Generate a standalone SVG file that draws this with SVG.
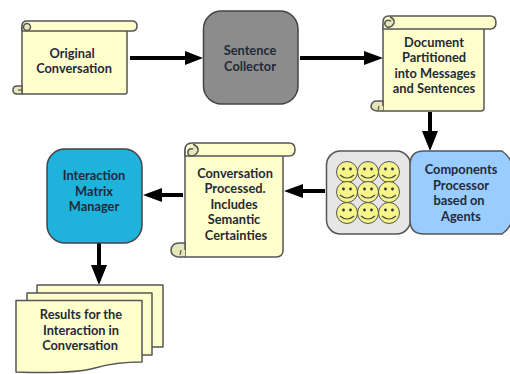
<svg xmlns="http://www.w3.org/2000/svg" width="510" height="374" viewBox="0 0 510 374">
<style>
text{font-family:Lato,"Liberation Sans",sans-serif;font-weight:700;font-size:12.8px;fill:#1f2a3a;text-anchor:middle}
.s{fill:#ffffcc;stroke:#555;stroke-width:1.5;stroke-linejoin:round}
.c{fill:#e6e6b8;stroke:#555;stroke-width:1.5}
.k{stroke:#000;stroke-width:4;fill:none}
.f{fill:#f5f58a;stroke:#555;stroke-width:1}
.e{fill:#333}
.m{fill:none;stroke:#444;stroke-width:1.2}
.l{fill:none;stroke:#555;stroke-width:1.2}
</style>
<defs>
<g id="smile">
<circle class="f" r="10.500"/><circle class="e" cx="-3.500" cy="-3" r="1.400"/><circle class="e" cx="3.500" cy="-3" r="1.400"/>
<path class="m" d="M-7 3Q0 9 7 3"/>
</g>
</defs>
<g id="connectors">
<path class="k" d="M130 58H188M300 58H368M430 112V134M325 191H302M183 195H160M99 243V270"/>
<path d="M203 58L185 51V65ZM383 58L364 51V65ZM430 151L422 131H438ZM284 191L303 184V198ZM143 195L162 188V202ZM99 285L91 265H107Z"/>
</g>
<g id="original">
<path class="s" d="M22 26H127V92Q127 94 125 94H22Z"/>
<path class="s" d="M27 21H132Q137 21 137 26Q137 31 132 31H22V26Q22 21 27 21Z"/>
<circle class="c" cx="27" cy="27" r="3.500"/>
<path class="c" d="M22 94H17Q13 94 13 90Q13 86 17 86H22Z"/>
<path class="l" d="M18 90H22"/>
<text x="72" y="58">Original</text><text x="74" y="73">Conversation</text>
</g>
<g id="collector">
<rect x="203.500" y="11" width="94.500" height="93" rx="18" fill="#8c8c8c" stroke="#444" stroke-width="1.500"/>
<text x="250" y="55">Sentence</text><text x="250" y="71">Collector</text>
</g>
<g id="partitioned">
<path class="s" d="M383 25H484V108Q484 111 481 111H383Z"/>
<path class="s" d="M389 16H490Q496 16 496 22.500Q496 29 490 29H383V22Q383 16 389 16Z"/>
<path class="c" d="M390 17Q395 19 394 23Q392 28 387 27Q384 25 385 22Q387 19 391 21"/>
<path class="c" d="M383 111H377Q371 110 371 106Q372 101 377 101H383V106"/>
<path class="l" d="M379 106L378 110"/>
<text x="434" y="47">Document</text><text x="434" y="62">Partitioned</text><text x="435" y="78">into Messages</text><text x="434" y="93">and Sentences</text>
</g>
<g id="agents">
<rect x="326.500" y="151" width="84" height="83" rx="14" fill="#e6e6e6" stroke="#555" stroke-width="1.500"/>
<use href="#smile" x="347" y="172"/><use href="#smile" x="368" y="172"/><use href="#smile" x="389" y="172"/>
<use href="#smile" x="347" y="192"/><use href="#smile" x="368" y="192"/><use href="#smile" x="389" y="192"/>
<use href="#smile" x="347" y="213"/><use href="#smile" x="368" y="213"/><use href="#smile" x="389" y="213"/>
</g>
<g id="components">
<path d="M424 151H502Q509 156 511 162V223Q509 229 502 234H424Q410 234 410 220V165Q410 151 424 151Z" fill="#99ccff" stroke="#555" stroke-width="1.500"/>
<text x="461" y="174">Components</text><text x="461" y="190">Processor</text><text x="459" y="205">based on</text><text x="461" y="221">Agents</text>
</g>
<g id="processed">
<path class="s" d="M185 150H283V250Q283 257 276 257H185Z"/>
<path class="s" d="M192 143H289Q295 143 295 149.500Q295 156 289 156H185V150Q185 143 192 143Z"/>
<path class="c" d="M193 144Q199 147 198 151Q196 156 191 156Q187 155 188 151Q189 148 193 149"/>
<path class="c" d="M185 257H178Q171 256 171 250Q172 243 179 243H185V250"/>
<path class="l" d="M181 250L180 255"/>
<text x="235" y="178">Conversation</text><text x="235" y="193">Processed.</text><text x="234" y="209">Includes</text><text x="234" y="224">Semantic</text><text x="236" y="240">Certainties</text>
</g>
<g id="matrix">
<rect x="47" y="149" width="95" height="94" rx="18" fill="#1fb3dc" stroke="#444" stroke-width="1.500"/>
<text x="94" y="180">Interaction</text><text x="94" y="196">Matrix</text><text x="94" y="211">Manager</text>
</g>
<g id="results">
<rect class="s" x="37" y="285" width="126" height="62"/>
<rect class="s" x="27" y="293" width="125" height="62"/>
<path class="s" d="M16 300.500H142V362Q115 362 95 368T16 372Z"/>
<text x="81" y="319">Results for the</text><text x="81" y="335">Interaction in</text><text x="80" y="350">Conversation</text>
</g>
</svg>
